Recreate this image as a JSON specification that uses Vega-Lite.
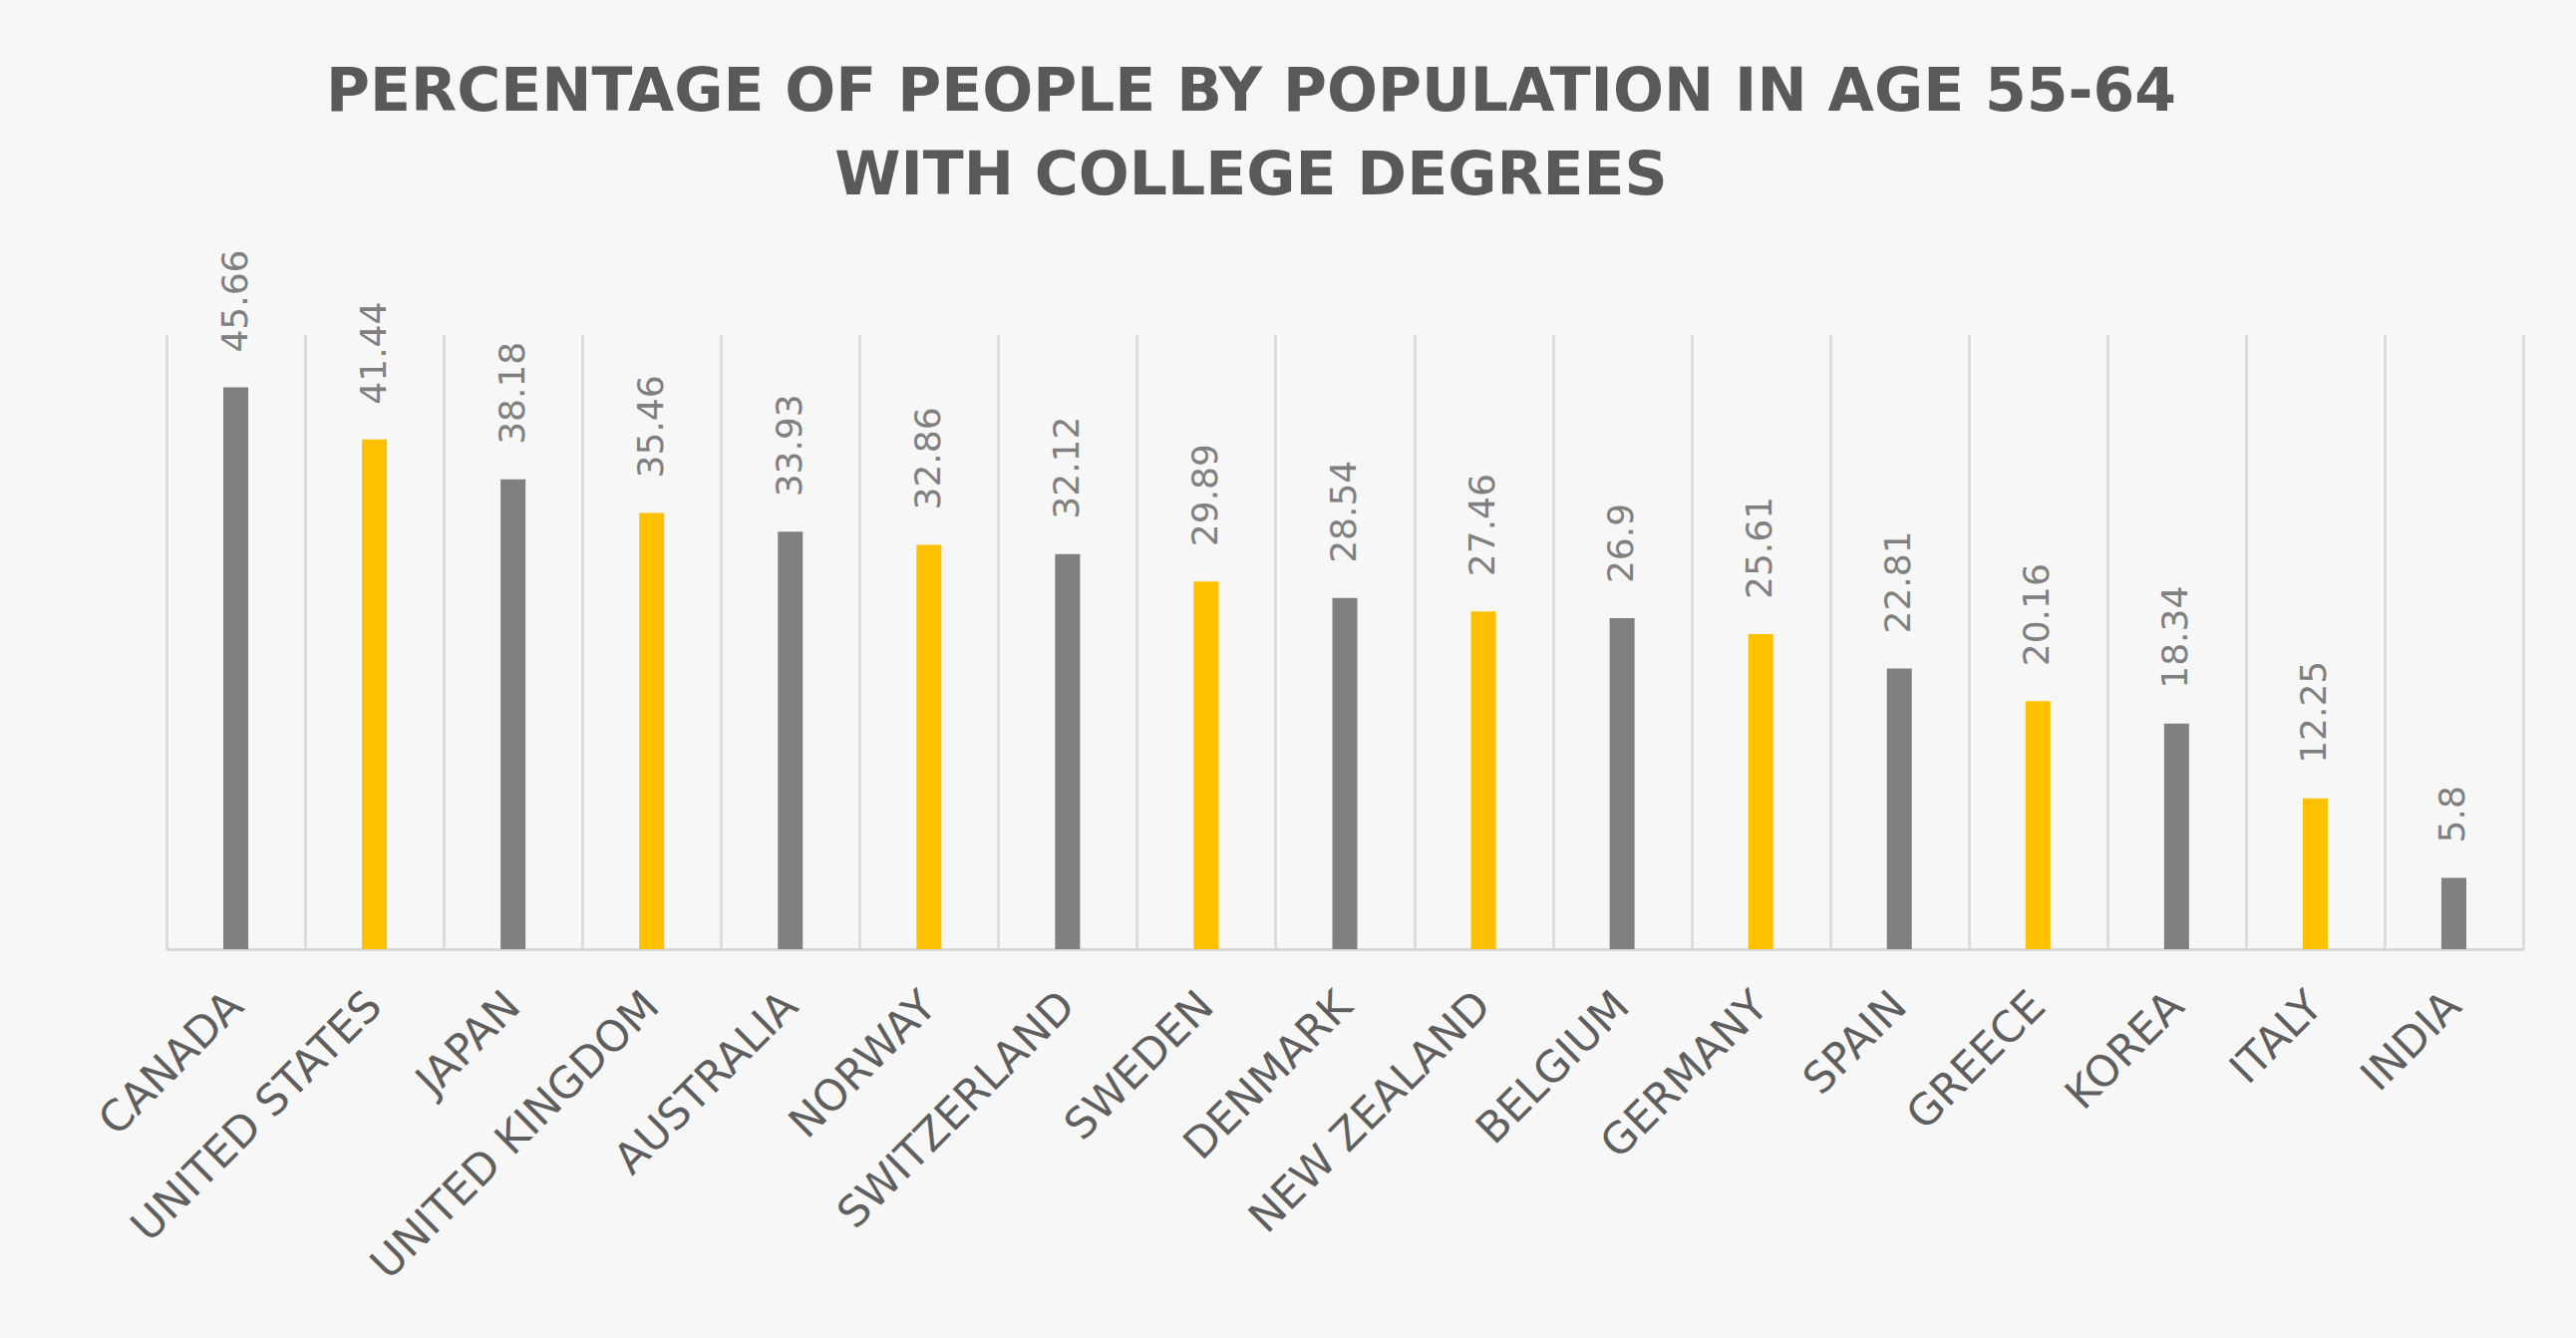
{
  "$schema": "https://vega.github.io/schema/vega-lite/v6.json",
  "width": 2364,
  "height": 617,
  "autosize": {"type": "none"},
  "padding": {"left": 167, "top": 335, "right": 53, "bottom": 390},
  "background": "#f7f7f7",
  "title": {
    "text": ["PERCENTAGE OF PEOPLE BY POPULATION IN AGE 55-64", "WITH COLLEGE DEGREES"],
    "font": "DejaVu Sans",
    "fontSize": 60,
    "fontWeight": "bold",
    "color": "#595959",
    "lineHeight": 84,
    "anchor": "middle",
    "frame": "group",
    "dx": -94,
    "offset": 42
  },
  "data": {
    "values": [
      {"country": "CANADA", "value": 45.66},
      {"country": "UNITED STATES", "value": 41.44},
      {"country": "JAPAN", "value": 38.18},
      {"country": "UNITED KINGDOM", "value": 35.46},
      {"country": "AUSTRALIA", "value": 33.93},
      {"country": "NORWAY", "value": 32.86},
      {"country": "SWITZERLAND", "value": 32.12},
      {"country": "SWEDEN", "value": 29.89},
      {"country": "DENMARK", "value": 28.54},
      {"country": "NEW ZEALAND", "value": 27.46},
      {"country": "BELGIUM", "value": 26.9},
      {"country": "GERMANY", "value": 25.61},
      {"country": "SPAIN", "value": 22.81},
      {"country": "GREECE", "value": 20.16},
      {"country": "KOREA", "value": 18.34},
      {"country": "ITALY", "value": 12.25},
      {"country": "INDIA", "value": 5.8}
    ]
  },
  "transform": [{"window": [{"op": "row_number", "as": "idx"}]}],
  "encoding": {
    "x": {
      "field": "country",
      "type": "nominal",
      "sort": null,
      "scale": {"paddingInner": 0, "paddingOuter": 0},
      "axis": {
        "title": null,
        "labelAngle": -45,
        "labelAlign": "right",
        "labelBaseline": "middle",
        "labelFont": "DejaVu Sans",
        "labelFontSize": 43,
        "labelColor": "#5f5f5f",
        "labelPadding": 50,
        "labelLimit": 0,
        "ticks": false,
        "tickBand": "extent",
        "domainColor": "#d9d9d9",
        "domainWidth": 3,
        "grid": true,
        "gridColor": "#d9d9d9",
        "gridWidth": 2.5
      }
    },
    "y": {
      "field": "value",
      "type": "quantitative",
      "scale": {"domain": [0, 50]},
      "axis": null
    }
  },
  "layer": [
    {
      "mark": {"type": "bar", "width": {"band": 0.18}},
      "encoding": {
        "color": {
          "condition": {"test": "datum.idx % 2 === 0", "value": "#ffc000"},
          "value": "#808080"
        }
      }
    },
    {
      "mark": {
        "type": "text",
        "angle": 270,
        "align": "left",
        "baseline": "middle",
        "dx": 35,
        "font": "DejaVu Sans",
        "fontSize": 36,
        "color": "#808080"
      },
      "encoding": {
        "text": {"field": "value", "type": "nominal"}
      }
    }
  ],
  "config": {"view": {"stroke": null}}
}
